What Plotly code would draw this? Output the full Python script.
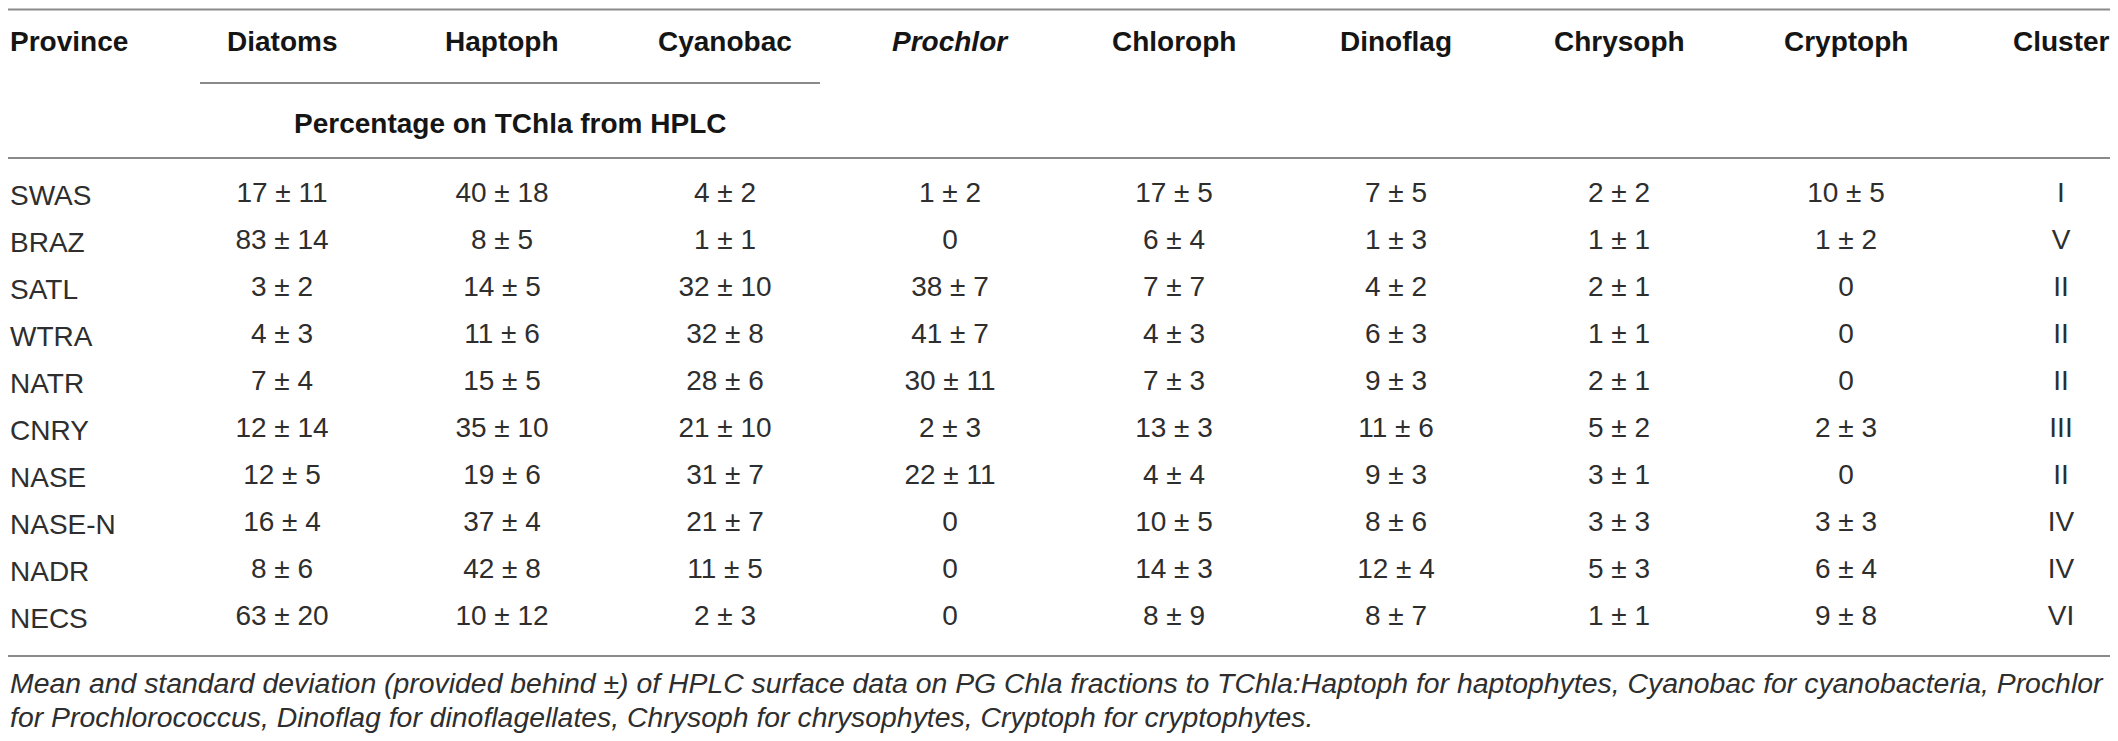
import plotly.graph_objects as go

# table content
provinces = ["SWAS", "BRAZ", "SATL", "WTRA", "NATR", "CNRY", "NASE", "NASE-N", "NADR", "NECS"]
clusters = ["I", "V", "II", "II", "II", "III", "II", "IV", "IV", "VI"]

diatoms_mean = [17, 83, 3, 4, 7, 12, 12, 16, 8, 63]
diatoms_sd = [11, 14, 2, 3, 4, 14, 5, 4, 6, 20]
haptoph_mean = [40, 8, 14, 11, 15, 35, 19, 37, 42, 10]
haptoph_sd = [18, 5, 5, 6, 5, 10, 6, 4, 8, 12]
cyanobac_mean = [4, 1, 32, 32, 28, 21, 31, 21, 11, 2]
cyanobac_sd = [2, 1, 10, 8, 6, 10, 7, 7, 5, 3]
prochlor_mean = [1, 0, 38, 41, 30, 2, 22, 0, 0, 0]
prochlor_sd = [2, None, 7, 7, 11, 3, 11, None, None, None]
chloroph_mean = [17, 6, 7, 4, 7, 13, 4, 10, 14, 8]
chloroph_sd = [5, 4, 7, 3, 3, 3, 4, 5, 3, 9]
dinoflag_mean = [7, 1, 4, 6, 9, 11, 9, 8, 12, 8]
dinoflag_sd = [5, 3, 2, 3, 3, 6, 3, 6, 4, 7]
chrysoph_mean = [2, 1, 2, 1, 2, 5, 3, 3, 5, 1]
chrysoph_sd = [2, 1, 1, 1, 1, 2, 1, 3, 3, 1]
cryptoph_mean = [10, 1, 0, 0, 0, 2, 0, 3, 6, 9]
cryptoph_sd = [5, 2, None, None, None, 3, None, 3, 4, 8]

headers = ["Diatoms", "Haptoph", "Cyanobac", "<i>Prochlor</i>", "Chloroph",
           "Dinoflag", "Chrysoph", "Cryptoph", "Cluster"]
subheader = "Percentage on TChla from HPLC"
caption = [
    "Mean and standard deviation (provided behind ±) of HPLC surface data on PG Chla fractions "
    "to TChla:Haptoph for haptophytes, Cyanobac for cyanobacteria, Prochlor",
    "for Prochlorococcus, Dinoflag for dinoflagellates, Chrysoph for chrysophytes, "
    "Cryptoph for cryptophytes.",
]

# layout, in screen pixels of the 2118x741 window
# (the page body keeps its 8px margin, so the figure is 16px smaller)
W, H = 2118, 741
PAGE_MARGIN = 8
COL_X = [282, 502, 725, 950, 1174, 1396, 1619, 1846, 2061]
LEFT_X = 8
HEADER_Y = 41
SUB_Y = 123
ROW_Y0 = 195
ROW_STEP = 47
CAP_Y = [683, 717]
RULES = [(0, W, 9.5), (200, 820, 83), (0, W, 158), (0, W, 656)]

FAMILY = "Liberation Sans, Arial, sans-serif"
BODY_FONT = dict(family=FAMILY, size=28, color="#2e2e2e")
HEAD_FONT = dict(family=FAMILY, size=28, color="#151515")
CAP_FONT = dict(family=FAMILY, size=28.4, color="#2e2e2e")


def fmt(means, sds):
    return [f"{m} ± {s}" if s is not None else f"{m}" for m, s in zip(means, sds)]


columns = [
    fmt(diatoms_mean, diatoms_sd),
    fmt(haptoph_mean, haptoph_sd),
    fmt(cyanobac_mean, cyanobac_sd),
    fmt(prochlor_mean, prochlor_sd),
    fmt(chloroph_mean, chloroph_sd),
    fmt(dinoflag_mean, dinoflag_sd),
    fmt(chrysoph_mean, chrysoph_sd),
    fmt(cryptoph_mean, cryptoph_sd),
    clusters,
]
row_y = [ROW_Y0 + i * ROW_STEP for i in range(len(provinces))]

fig = go.Figure()
for x, texts in zip(COL_X, columns):
    fig.add_trace(go.Scatter(
        x=[x] * len(texts), y=row_y, text=texts, mode="text",
        textposition="middle center", textfont=BODY_FONT,
        hoverinfo="skip", showlegend=False, cliponaxis=False,
    ))

ann = []
ann.append(dict(x=LEFT_X, y=HEADER_Y, text="<b>Province</b>", xanchor="left"))
for x, h in zip(COL_X, headers):
    ann.append(dict(x=x, y=HEADER_Y, text=f"<b>{h}</b>", xanchor="center"))
ann.append(dict(x=(RULES[1][0] + RULES[1][1]) / 2, y=SUB_Y, text=f"<b>{subheader}</b>",
                xanchor="center"))
for a in ann:
    a.update(font=HEAD_FONT)

for y, p in zip(row_y, provinces):
    ann.append(dict(x=LEFT_X, y=y, text=p, xanchor="left", font=BODY_FONT))
for y, c in zip(CAP_Y, caption):
    ann.append(dict(x=LEFT_X, y=y, text=f"<i>{c}</i>", xanchor="left", font=CAP_FONT))
for a in ann:
    a.update(xref="x", yref="y", yanchor="middle", showarrow=False)

shapes = [dict(type="line", xref="x", yref="y", x0=a, x1=b, y0=y, y1=y,
               line=dict(color="#8a8a8a", width=2)) for a, b, y in RULES]

fig.update_layout(
    width=W - 2 * PAGE_MARGIN, height=H - 2 * PAGE_MARGIN,
    margin=dict(l=0, r=0, t=0, b=0),
    paper_bgcolor="white", plot_bgcolor="white",
    xaxis=dict(range=[PAGE_MARGIN, W - PAGE_MARGIN], visible=False, fixedrange=True),
    yaxis=dict(range=[H - PAGE_MARGIN, PAGE_MARGIN], visible=False, fixedrange=True),
    annotations=ann, shapes=shapes,
)

fig.write_html("out.html")
